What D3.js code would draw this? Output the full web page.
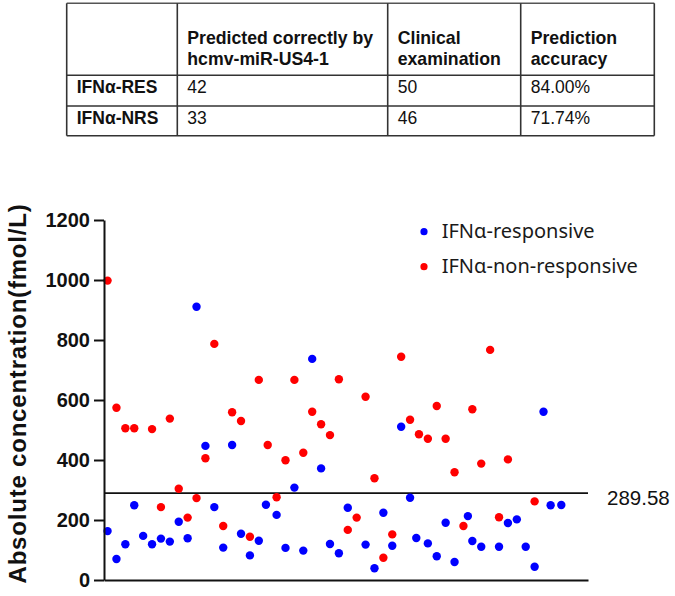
<!DOCTYPE html>
<html>
<head>
<meta charset="utf-8">
<script src="https://cdn.jsdelivr.net/npm/d3@7"></script>
<style>
  html, body { margin: 0; padding: 0; background: #fff; }
  svg { display: block; }
</style>
</head>
<body>
<svg id="chart" width="675" height="596"></svg>
<script>
// ---------------- DATA ----------------
// Table
const tableHeaders = [["", ""], ["Predicted correctly by", "hcmv-miR-US4-1"], ["Clinical", "examination"], ["Prediction", "accuracy"]];
const tableRowLabels = ["IFNα-RES", "IFNα-NRS"];
const tablePredicted = ["42", "33"];
const tableClinical = ["50", "46"];
const tableAccuracy = ["84.00%", "71.74%"];

// Scatter: sample position along x and absolute concentration (fmol/L)
const responsivePos = [0,1,2,3,4,5,6,7,8,9,10,11,12,13,14,15,16,17,17.8,19,20,21,22,23,24,25,26,27,29,30,31,32,33,34,34.7,36,37,38,39,40.5,41,42,44,45,46,47,48,49,49.8,51];
const responsiveVal = [163,70,119,249,147,119,138,128,194,139,911,447,243,108,450,154,82,131,251,217,107,308,98,737,372,120,89,241,118,39,224,114,511,274,140,122,79,191,60,213,130,111,111,190,202,111,44,561,249,250];

const nonResponsivePos = [0,1,2,3,5,6,7,8,9,10,11,12,13,14,15,16,17,18,19,20,21,22,23,24,25,26,27,28,29,30,31,32,33,34,35,36,37,38,39,40,41,42,43,44,45,48];
const nonResponsiveVal = [998,574,506,506,503,243,538,304,208,273,406,787,180,559,530,144,667,450,276,399,667,424,561,519,483,669,167,208,611,339,74,152,744,534,486,471,580,471,359,180,569,388,767,209,402,262];

const seriesNames = ["IFNα-responsive", "IFNα-non-responsive"];
const seriesColors = ["#0000ff", "#ff0000"];
const threshold = 289.58;
const yTicks = [0, 200, 400, 600, 800, 1000, 1200];
const yLabel = "Absolute concentration(fmol/L)";

// ---------------- DRAW ----------------
const svg = d3.select("#chart");

// ---- Table ----
const colX = [66.7, 177.3, 387.7, 520.7, 654.3];
const rowY = [3.3, 75.3, 106, 135.7];
const tbl = svg.append("g").attr("class", "table");
tbl.selectAll("line.h").data(rowY).join("line")
  .attr("x1", colX[0]).attr("x2", colX[colX.length - 1])
  .attr("y1", d => d).attr("y2", d => d)
  .attr("stroke", (d, i) => i === 0 ? "#555" : "#333").attr("stroke-width", 1.6);
tbl.selectAll("line.v").data(colX).join("line")
  .attr("x1", d => d).attr("x2", d => d)
  .attr("y1", rowY[0]).attr("y2", rowY[rowY.length - 1])
  .attr("stroke", "#333").attr("stroke-width", 1.6);

const tFont = "'Liberation Sans', Arial, sans-serif";
tableHeaders.forEach((lines, c) => {
  lines.forEach((t, li) => {
    if (!t) return;
    tbl.append("text")
      .attr("x", colX[c] + 10).attr("y", 43.5 + li * 21)
      .attr("font-family", tFont).attr("font-size", 17.7).attr("font-weight", "bold")
      .attr("fill", "#111").text(t);
  });
});
const rowBase = [92.5, 123.5];
tableRowLabels.forEach((lab, r) => {
  const cells = [lab, tablePredicted[r], tableClinical[r], tableAccuracy[r]];
  cells.forEach((t, c) => {
    tbl.append("text")
      .attr("x", colX[c] + 10).attr("y", rowBase[r])
      .attr("font-family", tFont).attr("font-size", 17.5)
      .attr("font-weight", c === 0 ? "bold" : "normal")
      .attr("fill", "#111").text(t);
  });
});

// ---- Scatter ----
const plot = { left: 104, right: 588, top: 220, bottom: 580 };
const x = d3.scaleLinear().domain([-0.4, 54.0]).range([plot.left, plot.right]);
const y = d3.scaleLinear().domain([0, 1200]).range([plot.bottom, plot.top]);

// threshold line
svg.append("line")
  .attr("x1", plot.left).attr("x2", plot.right)
  .attr("y1", y(threshold)).attr("y2", y(threshold))
  .attr("stroke", "#111").attr("stroke-width", 1.8);
svg.append("text")
  .attr("x", 607).attr("y", y(threshold) + 12)
  .attr("font-family", tFont).attr("font-size", 20.5)
  .attr("fill", "#111").text(threshold.toFixed(2));

// points
const blue = responsivePos.map((p, i) => ({ p, v: responsiveVal[i] }));
const red = nonResponsivePos.map((p, i) => ({ p, v: nonResponsiveVal[i] }));
svg.append("g").selectAll("circle").data(red).join("circle")
  .attr("cx", d => x(d.p)).attr("cy", d => y(d.v)).attr("r", 4.2)
  .attr("fill", seriesColors[1]);
svg.append("g").selectAll("circle").data(blue).join("circle")
  .attr("cx", d => x(d.p)).attr("cy", d => y(d.v)).attr("r", 4.2)
  .attr("fill", seriesColors[0]);

// axes
const yAxis = d3.axisLeft(y).tickValues(yTicks).tickFormat(d3.format("d"))
  .tickSize(10).tickPadding(4).tickSizeOuter(0);
const gy = svg.append("g").attr("transform", `translate(${plot.left},0)`).call(yAxis);
gy.select(".domain").attr("stroke", "#111").attr("stroke-width", 2);
gy.selectAll(".tick line").attr("stroke", "#111").attr("stroke-width", 2);
gy.selectAll(".tick text")
  .attr("font-family", tFont).attr("font-size", 20).attr("font-weight", "bold").attr("fill", "#111");

const xAxis = d3.axisBottom(x).tickValues([]).tickSizeOuter(0);
const gx = svg.append("g").attr("transform", `translate(0,${plot.bottom})`).call(xAxis);
gx.select(".domain").attr("stroke", "#111").attr("stroke-width", 2);

// y label
svg.append("text")
  .attr("transform", `translate(26,${(585 + 202) / 2}) rotate(-90)`)
  .attr("text-anchor", "middle")
  .attr("font-family", tFont).attr("font-size", 24).attr("font-weight", "bold")
  .attr("letter-spacing", "0.8px")
  .attr("fill", "#111").text(yLabel);

// legend
const legY = [231.7, 266.7];
const leg = svg.append("g");
seriesNames.forEach((n, i) => {
  leg.append("circle").attr("cx", 424).attr("cy", legY[i]).attr("r", 3.6).attr("fill", seriesColors[i]);
  leg.append("text").attr("x", 441.7).attr("y", legY[i] + 6.5)
    .attr("font-family", "'Noto Sans', sans-serif").attr("font-size", 20)
    .attr("fill", "#1a1a1a").text(n);
});
</script>
</body>
</html>
